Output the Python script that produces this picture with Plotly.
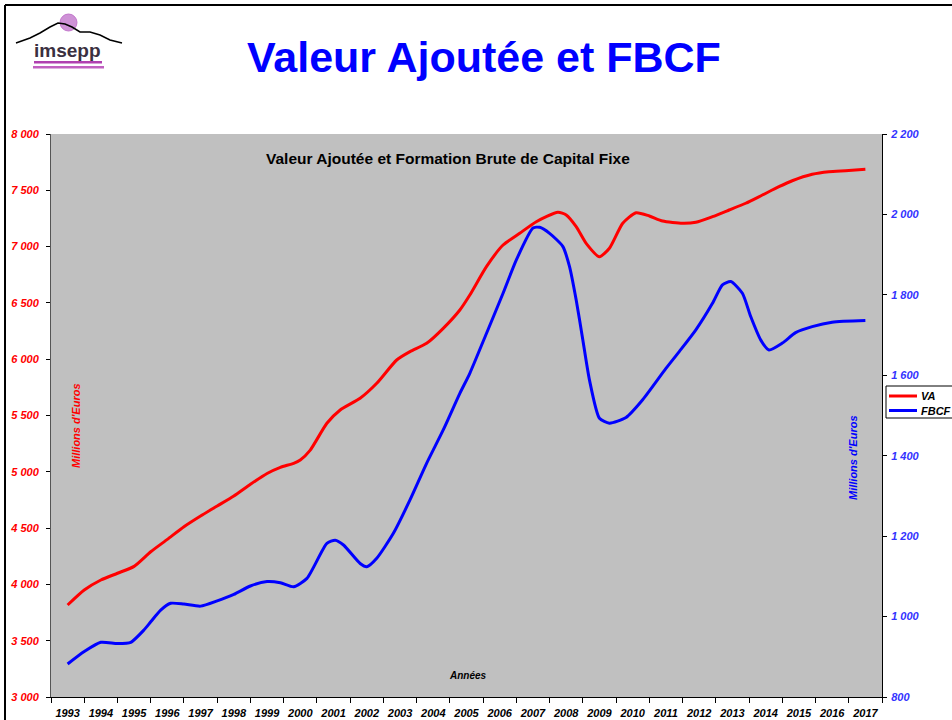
import plotly.graph_objects as go

# ---------------- data ----------------
va_years = [1993.0, 1993.5, 1994.0, 1994.5, 1995.0, 1995.5, 1996.0, 1996.5, 1997.0, 1997.5,
            1998.0, 1998.5, 1999.0, 1999.4, 1999.8, 2000.0, 2000.3, 2000.8, 2001.2, 2001.8,
            2002.3, 2002.9, 2003.3, 2003.8, 2004.3, 2004.8, 2005.1, 2005.6, 2006.1, 2006.6,
            2007.1, 2007.75, 2008.0, 2008.3, 2008.6, 2009.0, 2009.3, 2009.7, 2010.1, 2010.5,
            2010.9, 2011.5, 2011.9, 2012.4, 2012.9, 2013.4, 2013.9, 2014.4, 2014.8, 2015.4,
            2015.9, 2016.4, 2017.0]
va_values = [3817, 3950, 4039, 4099, 4160, 4290, 4400, 4512, 4607, 4696,
             4785, 4889, 4985, 5040, 5075, 5105, 5193, 5431, 5549, 5653,
             5786, 5993, 6067, 6141, 6274, 6437, 6570, 6822, 7014, 7118,
             7221, 7305, 7281, 7177, 7029, 6910, 6985, 7207, 7301, 7272,
             7227, 7207, 7216, 7266, 7325, 7385, 7458, 7532, 7585, 7642,
             7665, 7674, 7686]

fbcf_years = [1993.0, 1993.5, 1994.0, 1994.5, 1994.9, 1995.3, 1995.5, 1995.8, 1996.1, 1996.5,
              1997.0, 1997.5, 1998.0, 1998.5, 1999.0, 1999.4, 1999.8, 2000.2, 2000.8, 2001.05,
              2001.3, 2001.8, 2002.0, 2002.3, 2002.8, 2003.3, 2003.8, 2004.3, 2004.8, 2005.1,
              2005.6, 2006.1, 2006.5, 2007.0, 2007.2, 2007.5, 2007.9, 2008.1, 2008.3, 2008.5,
              2008.7, 2009.0, 2009.3, 2009.8, 2010.3, 2011.0, 2011.4, 2011.9, 2012.4, 2012.7,
              2012.95, 2013.3, 2013.55, 2013.85, 2014.1, 2014.5, 2014.9, 2015.4, 2016.0, 2017.0]
fbcf_values = [882, 913, 936, 933, 936, 967, 987, 1016, 1033, 1031,
               1026, 1039, 1055, 1076, 1087, 1084, 1074, 1095, 1182, 1190,
               1178, 1132, 1124, 1145, 1207, 1290, 1381, 1464, 1555, 1605,
               1704, 1804, 1887, 1966, 1968, 1953, 1920, 1870, 1787, 1688,
               1588, 1493, 1481, 1495, 1539, 1617, 1659, 1713, 1779, 1825,
               1833, 1804, 1746, 1688, 1663, 1680, 1706, 1721, 1732, 1736]

series_names = ["VA", "FBCF"]
series_colors = ["#ff0000", "#0000ff"]

year_labels = [str(y) for y in range(1993, 2018)]
year_ticks = list(range(1993, 2018))
year_bounds = [y - 0.5 for y in range(1993, 2019)]

left_ticks = list(range(3000, 8001, 500))
right_ticks = list(range(800, 2201, 200))

# ---------------- layout geometry (pixels) ----------------
W, H = 952, 720
L, R, T, B = 51, 882, 134, 697


def px(x):
    return (x - L) / (R - L)


def py(y):
    return (B - y) / (B - T)


FONT = "Arial, Liberation Sans, sans-serif"

fig = go.Figure()
fig.add_trace(go.Scatter(
    x=va_years, y=va_values, name=series_names[0], mode="lines",
    line=dict(color=series_colors[0], width=3, shape="spline", smoothing=0.6),
    yaxis="y"))
fig.add_trace(go.Scatter(
    x=fbcf_years, y=fbcf_values, name=series_names[1], mode="lines",
    line=dict(color=series_colors[1], width=3, shape="spline", smoothing=0.6),
    yaxis="y2"))

fig.update_layout(
    width=W, height=H,
    margin=dict(l=L, r=W - R, t=T, b=H - B, pad=0, autoexpand=False),
    paper_bgcolor="white",
    plot_bgcolor="#c0c0c0",
    separators=", ",
    showlegend=False,
    xaxis=dict(
        range=[1992.5, 2017.5], showgrid=False, zeroline=False,
        tickvals=year_ticks, ticktext=year_labels, ticks="",
        showline=True, linecolor="black", linewidth=1,
        tickfont=dict(family=FONT, size=11, color="black", weight="bold", style="italic"),
        minor=dict(tickvals=year_bounds, ticks="outside", ticklen=5, tickcolor="black", showgrid=False),
        ticklabelstandoff=6,
    ),
    yaxis=dict(
        range=[3000, 8000], tickvals=left_ticks, tickformat=",d",
        showgrid=False, zeroline=False,
        showline=True, linecolor="#555555", linewidth=1,
        ticks="outside", ticklen=4, tickcolor="black",
        tickfont=dict(family=FONT, size=11, color="#ff0000", weight="bold", style="italic"),
        ticklabelstandoff=5,
    ),
    yaxis2=dict(
        range=[800, 2200], tickvals=right_ticks, tickformat=",d",
        overlaying="y", side="right",
        showgrid=False, zeroline=False,
        showline=True, linecolor="black", linewidth=1,
        ticks="outside", ticklen=4, tickcolor="black",
        tickfont=dict(family=FONT, size=11, color="#3333ff", weight="bold", style="italic"),
        ticklabelstandoff=2,
    ),
)

annotations = [
    dict(text="Valeur Ajoutée et FBCF", x=px(484), y=py(57), xref="paper", yref="paper",
         showarrow=False, xanchor="center", yanchor="middle",
         font=dict(family=FONT, size=43, color="#0000ff", weight="bold")),
    dict(text="Valeur Ajoutée et Formation Brute de Capital Fixe", x=px(448), y=py(158),
         xref="paper", yref="paper", showarrow=False, xanchor="center", yanchor="middle",
         font=dict(family=FONT, size=15.5, color="black", weight="bold")),
    dict(text="Millions d'Euros", x=px(76), y=py(426), xref="paper", yref="paper",
         showarrow=False, textangle=-90, xanchor="center", yanchor="middle",
         font=dict(family=FONT, size=11, color="#ff0000", weight="bold", style="italic")),
    dict(text="Millions d'Euros", x=px(853), y=py(458), xref="paper", yref="paper",
         showarrow=False, textangle=-90, xanchor="center", yanchor="middle",
         font=dict(family=FONT, size=11, color="#0000ff", weight="bold", style="italic")),
    dict(text="Années", x=px(468), y=py(675), xref="paper", yref="paper",
         showarrow=False, xanchor="center", yanchor="middle",
         font=dict(family=FONT, size=10, color="black", weight="bold", style="italic")),
    dict(text="imsepp", x=px(67), y=py(50), xref="paper", yref="paper",
         showarrow=False, xanchor="center", yanchor="middle",
         font=dict(family=FONT, size=19, color="#3a3040", weight="bold")),
]

shapes = []
# slide frame (top and left)
shapes.append(dict(type="line", xref="paper", yref="paper", x0=px(5), y0=py(5), x1=px(952), y1=py(5),
                   line=dict(color="black", width=2)))
shapes.append(dict(type="line", xref="paper", yref="paper", x0=px(5), y0=py(5), x1=px(5), y1=py(720),
                   line=dict(color="black", width=2)))
# logo: sun + mountain
shapes.append(dict(type="circle", xref="paper", yref="paper", x0=px(60), y0=py(14), x1=px(77), y1=py(31),
                   fillcolor="rgba(190,110,200,0.75)", line=dict(color="rgba(190,110,200,0.9)", width=1)))
mountain = [(16, 43), (30, 38), (40, 33), (50, 27), (58, 23), (65, 24), (72, 27),
            (80, 32), (90, 32), (100, 35), (110, 40), (122, 43)]
path = "M " + " L ".join(f"{px(a)},{py(b)}" for a, b in mountain)
shapes.append(dict(type="path", xref="paper", yref="paper", path=path,
                   line=dict(color="black", width=1.5)))
# logo: small lines under the name
shapes.append(dict(type="rect", xref="paper", yref="paper", x0=px(34), y0=py(61), x1=px(102), y1=py(63.5),
                   fillcolor="#b040b0", line=dict(width=0)))
shapes.append(dict(type="rect", xref="paper", yref="paper", x0=px(33), y0=py(66), x1=px(104), y1=py(68.5),
                   fillcolor="#c060c0", line=dict(width=0)))

# custom legend (box partly outside the page, as in the reference)
shapes.append(dict(type="rect", xref="paper", yref="paper", x0=px(886), y0=py(386), x1=px(960), y1=py(418),
                   fillcolor="white", line=dict(color="black", width=1)))
for i, (name, col) in enumerate(zip(series_names, series_colors)):
    yy = 396 + i * 14.5
    shapes.append(dict(type="line", xref="paper", yref="paper", x0=px(889), y0=py(yy), x1=px(917), y1=py(yy),
                       line=dict(color=col, width=3)))
    annotations.append(dict(text=name, x=px(919), y=py(yy), xref="paper", yref="paper",
                            showarrow=False, xanchor="left", yanchor="middle",
                            font=dict(family=FONT, size=11, color="black", weight="bold", style="italic")))

fig.update_layout(annotations=annotations, shapes=shapes)

fig.write_html("out.html", config={"displayModeBar": False},
               post_script="document.body.style.margin='0';document.body.style.padding='0';")
